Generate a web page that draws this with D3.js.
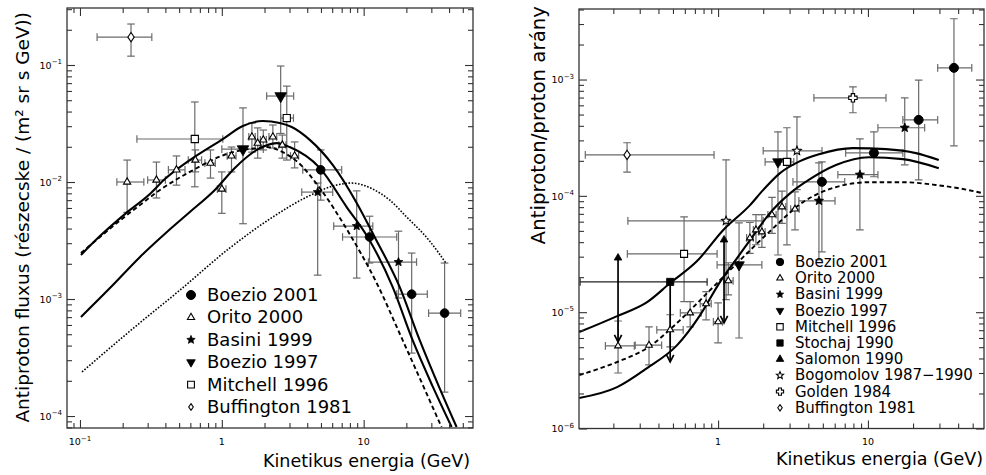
<!DOCTYPE html>
<html><head><meta charset="utf-8">
<script src="https://cdn.jsdelivr.net/npm/d3@7"></script>
<style>
body{margin:0;background:#fff;}
svg{display:block;font-family:"DejaVu Sans",sans-serif;}
</style></head><body>
<svg id="c" width="986" height="475"></svg>
<script>
// ================= LEFT PANEL: antiproton flux =================
// model curves [E (GeV), flux]
const lCurveUpper = [[0.1016,2.38e-3],[0.1383,3.45e-3],[0.2073,5.32e-3],[0.311,7.89e-3],[0.397,1.06e-2],[0.595,1.54e-2],[1.016,2.33e-2],[1.406,3.01e-2],[1.945,3.32e-2],[2.56,3.19e-2],[3.11,2.95e-2],[4.17,2.29e-2],[6.05,1.40e-2],[8.93,6.62e-3],[11.95,3.39e-3],[17.93,1.27e-3],[24.8,4.47e-4],[34.3,1.73e-4],[45.2,8.05e-5]];
const lCurveLower = [[0.1016,7.02e-4],[0.1626,1.24e-3],[0.265,2.29e-3],[0.410,3.74e-3],[0.595,5.54e-3],[0.893,8.55e-3],[1.235,1.32e-2],[1.764,1.88e-2],[2.44,2.15e-2],[3.01,1.99e-2],[4.90,1.32e-2],[7.59,6.11e-3],[10.67,3.39e-3],[16.0,1.27e-3],[22.1,4.47e-4],[30.6,1.80e-4],[41.7,8.05e-5]];
const lCurveDashed = [[0.1016,2.47e-3],[0.1383,3.39e-3],[0.2143,5.22e-3],[0.265,6.36e-3],[0.366,8.55e-3],[0.595,1.22e-2],[1.138,1.77e-2],[1.764,1.95e-2],[2.074,1.99e-2],[2.69,1.80e-2],[3.43,1.48e-2],[4.90,8.89e-3],[7.59,3.96e-3],[12.35,1.37e-3],[18.8,4.47e-4],[35.4,8.05e-5]];
const lCurveDotted = [[0.1033,2.38e-4],[0.225,5.32e-4],[0.506,1.19e-3],[1.138,2.73e-3],[2.287,5.02e-3],[3.97,7.44e-3],[6.45,9.42e-3],[8.23,9.8e-3],[11.57,8.71e-3],[15.25,7.02e-3],[20.1,5.02e-3],[29.2,3.13e-3],[38.4,1.99e-3]];
// data points [E, flux, Elo, Ehi, fluxLo, fluxHi]
const lBoezio2001 = [[4.98,1.27e-2,3.72,7.0,7.0e-3,1.88e-2],[11.0,3.39e-3,7.1,17.1,2.03e-3,5.1e-3],[21.8,1.10e-3,17.1,28.1,3.45e-4,2.47e-3],[37.2,7.58e-4,28.7,48.3,1.60e-4,2.03e-3]];
const lOrito2000 = [[0.215,1.00e-2,0.182,0.282,5.5e-3,1.54e-2],[0.346,1.04e-2,0.30,0.40,7.3e-3,1.48e-2],[0.479,1.27e-2,0.42,0.55,9.4e-3,1.67e-2],[0.651,1.54e-2,0.58,0.72,1.22e-2,1.88e-2],[0.832,1.45e-2,0.76,0.90,1.08e-2,1.88e-2],[1.00,8.7e-3,0.93,1.07,5.4e-3,1.22e-2],[1.17,1.67e-2,1.09,1.26,1.22e-2,1.99e-2],[1.63,2.43e-2,1.55,1.72,1.80e-2,3.19e-2],[1.79,2.15e-2,1.72,1.87,1.60e-2,2.90e-2],[1.96,2.29e-2,1.87,2.06,1.88e-2,2.78e-2],[2.29,2.43e-2,2.15,2.44,1.95e-2,3.07e-2],[2.67,2.07e-2,2.52,2.83,1.60e-2,2.52e-2],[3.26,1.67e-2,3.05,3.48,1.32e-2,2.20e-2]];
const lBasini1999 = [[4.74,8.2e-3,3.66,6.05,1.60e-3,9.8e-3],[8.93,4.2e-3,6.15,11.6,1.51e-3,8.4e-3],[17.6,2.07e-3,10.8,23.6,1.02e-3,3.8e-3]];
const lBoezio1997 = [[1.41,1.91e-2,1.0,1.96,4.4e-3,4.3e-2],[2.60,5.43e-2,2.07,3.21,2.6e-2,9.8e-2]];
const lMitchell1996 = [[0.645,2.33e-2,0.252,1.016,9.1e-3,4.83e-2],[2.87,3.52e-2,2.6,3.2,1.54e-2,6.6e-2]];
const lBuffington1981 = [[0.229,0.173,0.132,0.321,0.119,0.224]];
const lXTicks = [0.1,1,10];
const lYTicks = [1e-4,1e-3,1e-2,1e-1];
const lLegendNames = ["Boezio 2001","Orito 2000","Basini 1999","Boezio 1997","Mitchell 1996","Buffington 1981"];

// ================= RIGHT PANEL: antiproton/proton ratio =================
const rCurveUpper = [[0.1183,6.74e-6],[0.212,9.25e-6],[0.336,1.22e-5],[0.479,1.78e-5],[0.724,2.75e-5],[1.08,5.07e-5],[1.634,8.32e-5],[1.995,1.12e-4],[2.59,1.57e-4],[3.52,1.99e-4],[4.71,2.28e-4],[7.94,2.57e-4],[13.18,2.52e-4],[20.9,2.33e-4],[29.7,2.03e-4]];
const rCurveLower = [[0.1183,1.83e-6],[0.212,2.27e-6],[0.336,3.31e-6],[0.533,5.21e-6],[0.759,9.44e-6],[1.031,1.82e-5],[1.339,2.92e-5],[1.765,4.78e-5],[2.188,6.96e-5],[3.02,1.05e-4],[4.10,1.39e-4],[6.12,1.84e-4],[10.16,2.15e-4],[17.1,2.07e-4],[29.7,1.73e-4]];
const rCurveDashed = [[0.1183,2.88e-6],[0.212,3.73e-6],[0.336,4.92e-6],[0.558,8.55e-6],[0.819,1.40e-5],[1.148,2.17e-5],[1.402,2.80e-5],[2.188,4.88e-5],[3.69,8.83e-5],[6.12,1.19e-4],[10.16,1.31e-4],[17.1,1.31e-4],[28.4,1.24e-4],[47.1,1.12e-4],[59.3,1.05e-4]];
// data points [E, ratio, Elo, Ehi, ratioLo, ratioHi]
const rBoezio2001 = [[4.93,1.32e-4,3.16,7.0,3.3e-5,1.96e-4],[10.96,2.34e-4,7.1,17.1,1.46e-4,3.55e-4],[21.8,4.5e-4,17.1,29.2,1.37e-4,9.9e-4],[37.5,1.26e-3,29.2,49.3,2.69e-4,3.33e-3]];
const rOrito2000 = [[0.215,5.13e-6,0.177,0.276,3.0e-6,8.4e-6],[0.346,5.2e-6,0.28,0.42,3.52e-6,7.48e-6],[0.479,7.05e-6,0.39,0.585,5.03e-6,9.5e-6],[0.651,9.86e-6,0.56,0.77,7.48e-6,1.23e-5],[0.832,1.18e-5,0.76,0.90,8.6e-6,1.5e-5],[1.00,8.26e-6,0.93,1.07,5.45e-6,1.2e-5],[1.17,1.86e-5,1.09,1.26,1.41e-5,2.66e-5],[1.63,4.35e-5,1.55,1.72,3.2e-5,5.9e-5],[1.79,5.1e-5,1.72,1.87,3.8e-5,6.9e-5],[1.96,4.9e-5,1.87,2.06,3.6e-5,6.9e-5],[2.29,6.87e-5,2.15,2.44,4.75e-5,9.7e-5],[2.67,8.04e-5,2.52,2.83,5.8e-5,1.1e-4],[3.26,7.7e-5,3.05,3.48,5.1e-5,1.08e-4]];
const rBasini1999 = [[4.71,9.06e-5,3.46,6.03,2.82e-5,1.92e-4],[8.84,1.52e-4,6.3,11.66,5.1e-5,3.09e-4],[17.6,3.85e-4,11.66,23.9,1.85e-4,6.95e-4]];
const rBoezio1997 = [[1.38,2.55e-5,0.985,1.96,6.0e-6,5.86e-5],[2.51,1.96e-4,2.06,3.07,3.1e-5,3.55e-4]];
const rMitchell1996 = [[0.593,3.17e-5,0.248,0.985,1.23e-5,6.59e-5],[2.88,1.96e-4,2.6,3.2,3.79e-5,3.85e-4]];
// Stochaj 1990: [E, ratio, Elo, Ehi, arrow end]
const rStochaj1990 = [[0.479,1.82e-5,0.120,0.845,3.74e-6]];
// Salomon 1990: [E, top, bottom]
const rSalomon1990 = [[0.215,2.93e-5,5.56e-6],[1.096,4.19e-5,8.09e-6]];
const rBogomolov = [[1.13,6.1e-5,0.25,2.0,1.28e-5,2.04e-4],[3.36,2.44e-4,2.0,4.94,1.13e-4,4.78e-4]];
const rGolden1984 = [[7.94,6.96e-4,4.36,13.2,5.18e-4,8.65e-4]];
const rBuffington1981 = [[0.247,2.25e-4,0.130,0.94,1.6e-4,2.86e-4]];
const rXTicks = [1,10];
const rYTicks = [1e-6,1e-5,1e-4,1e-3];
const rLegendNames = ["Boezio 2001","Orito 2000","Basini 1999","Boezio 1997","Mitchell 1996","Stochaj 1990","Salomon 1990","Bogomolov 1987\u22121990","Golden 1984","Buffington 1981"];

// ================= drawing =================
const svg = d3.select('#c');

function symPath(type, s){
  const f=(v)=>v.toFixed(2);
  switch(type){
    case 'triUp': return `M0,${f(-1.15*s)}L${f(s)},${f(0.58*s)}L${f(-s)},${f(0.58*s)}Z`;
    case 'triDown': return `M0,${f(1.15*s)}L${f(s)},${f(-0.58*s)}L${f(-s)},${f(-0.58*s)}Z`;
    case 'square': return `M${f(-s)},${f(-s)}H${f(s)}V${f(s)}H${f(-s)}Z`;
    case 'diamond': return `M0,${f(-1.45*s)}L${f(s)},0L0,${f(1.45*s)}L${f(-s)},0Z`;
    case 'cross': { const a=0.4*s; return `M${f(-a)},${f(-s)}H${f(a)}V${f(-a)}H${f(s)}V${f(a)}H${f(a)}V${f(s)}H${f(-a)}V${f(a)}H${f(-s)}V${f(-a)}H${f(-a)}Z`; }
    case 'star': {
      let p=''; for(let i=0;i<10;i++){ const r=i%2?s*0.45:s; const ang=-Math.PI/2+i*Math.PI/5; p+=(i?'L':'M')+f(r*Math.cos(ang))+','+f(r*Math.sin(ang)); } return p+'Z'; }
  }
}
function marker(g, kind, cx, cy, s){
  if(kind.type==='circle'){
    g.append('circle').attr('cx',cx).attr('cy',cy).attr('r',s).attr('fill',kind.fill).attr('stroke','#000').attr('stroke-width',1);
  } else {
    g.append('path').attr('transform',`translate(${cx},${cy})`).attr('d',symPath(kind.type,s))
      .attr('fill',kind.fill).attr('stroke','#000').attr('stroke-width',kind.fill==='#000'?0.8:1.1).attr('stroke-linejoin','miter');
  }
}
function errBars(g, x, y, pts, color){
  const cap=3.8;
  pts.forEach(p=>{
    const cx=x(p[0]), cy=y(p[1]);
    if(p[2]!=null){
      const x0=x(p[2]), x1=x(p[3]);
      g.append('line').attr('x1',x0).attr('x2',x1).attr('y1',cy).attr('y2',cy);
      g.append('line').attr('x1',x0).attr('x2',x0).attr('y1',cy-cap).attr('y2',cy+cap);
      g.append('line').attr('x1',x1).attr('x2',x1).attr('y1',cy-cap).attr('y2',cy+cap);
    }
    if(p[4]!=null){
      const y0=y(p[4]), y1=y(p[5]);
      g.append('line').attr('x1',cx).attr('x2',cx).attr('y1',y0).attr('y2',y1);
      g.append('line').attr('x1',cx-cap).attr('x2',cx+cap).attr('y1',y0).attr('y2',y0);
      g.append('line').attr('x1',cx-cap).attr('x2',cx+cap).attr('y1',y1).attr('y2',y1);
    }
  });
  g.selectAll('line').attr('stroke',color).attr('stroke-width',1.2);
}
function minors(domain){
  const out=[]; const [a,b]=domain;
  for(let d=Math.floor(Math.log10(a)); d<=Math.ceil(Math.log10(b)); d++)
    for(let m=2;m<=9;m++){ const v=m*Math.pow(10,d); if(v>a*1.0001 && v<b*0.9999) out.push(v); }
  return out;
}
function expLabel(t, v){
  const e=Math.round(Math.log10(v));
  if(e===0){ t.text('1'); return; }
  if(e===1){ t.text('10'); return; }
  t.append('tspan').text('10');
  t.append('tspan').attr('dy',-4.5).attr('font-size',7).text('\u2212'+(-e));
}
function frameAndAxes(g, x, y, xTicks, yTicks, lab){
  const [X0,X1]=x.range(), [Y0,Y1]=y.range();
  const axes=[
    [d3.axisBottom, x, `translate(0,${Y0})`, xTicks],
    [d3.axisTop, x, `translate(0,${Y1})`, xTicks],
    [d3.axisLeft, y, `translate(${X0},0)`, yTicks],
    [d3.axisRight, y, `translate(${X1},0)`, yTicks]];
  axes.forEach(([ax,sc,tr,maj])=>{
    [[maj,-8],[minors(sc.domain()),-5]].forEach(([vals,len])=>{
      const a=g.append('g').attr('transform',tr)
        .call(ax(sc).tickValues(vals).tickSize(len).tickFormat(''));
      a.select('.domain').remove();
      a.selectAll('line').attr('stroke','#333').attr('stroke-width',1.1);
    });
  });
  g.append('rect').attr('x',X0).attr('y',Y1).attr('width',X1-X0).attr('height',Y0-Y1)
    .attr('fill','none').attr('stroke','#333').attr('stroke-width',1.3);
  xTicks.forEach(v=>{
    const t=g.append('text').attr('x',x(v)).attr('y',lab.xBase).attr('text-anchor','middle')
      .attr('font-size',9.5).attr('fill','#000');
    expLabel(t,v);
  });
  yTicks.forEach(v=>{
    const t=g.append('text').attr('x',X0-lab.yGap).attr('y',y(v)+3.8).attr('text-anchor','end')
      .attr('font-size',9.5).attr('fill','#000');
    expLabel(t,v);
  });
}
function curve(g, x, y, data, style){
  const line=d3.line().x(d=>x(d[0])).y(d=>y(d[1])).curve(d3.curveMonotoneX);
  const p=g.append('path').attr('d',line(data)).attr('fill','none').attr('stroke','#000')
    .attr('stroke-width',style.w).attr('stroke-linejoin','round');
  if(style.dash) p.attr('stroke-dasharray',style.dash);
}

const K={
  circle:{type:'circle',fill:'#000'}, triOpen:{type:'triUp',fill:'#fff'}, star:{type:'star',fill:'#000'},
  triDown:{type:'triDown',fill:'#000'}, sqOpen:{type:'square',fill:'#fff'}, sqFill:{type:'square',fill:'#000'},
  triFill:{type:'triUp',fill:'#000'}, starOpen:{type:'star',fill:'#fff'}, cross:{type:'cross',fill:'#fff'},
  diamond:{type:'diamond',fill:'#fff'}
};
const ERR='#6a6a6a';

// ---------- left panel ----------
{
  const x=d3.scaleLog().domain([0.081,59]).range([67,473]);
  const y=d3.scaleLog().domain([7.9e-5,0.307]).range([428,8]);
  const g=svg.append('g');
  svg.append('clipPath').attr('id','clipL').append('rect').attr('x',67).attr('y',8).attr('width',406).attr('height',420);
  const pg=g.append('g').attr('clip-path','url(#clipL)');
  const eb=pg.append('g');
  [lOrito2000,lBoezio1997,lMitchell1996,lBuffington1981,lBasini1999,lBoezio2001].forEach(d=>errBars(eb.append('g'),x,y,d,ERR));
  curve(pg,x,y,lCurveDotted,{w:1.6,dash:'1.6,1.6'});
  curve(pg,x,y,lCurveDashed,{w:1.9,dash:'4.5,3'});
  curve(pg,x,y,lCurveLower,{w:2.1});
  curve(pg,x,y,lCurveUpper,{w:2.1});
  const mg=pg.append('g');
  lOrito2000.forEach(p=>marker(mg,K.triOpen,x(p[0]),y(p[1]),3.6));
  lMitchell1996.forEach(p=>marker(mg,K.sqOpen,x(p[0]),y(p[1]),3.6));
  lBuffington1981.forEach(p=>marker(mg,K.diamond,x(p[0]),y(p[1]),3.2));
  lBoezio1997.forEach(p=>marker(mg,K.triDown,x(p[0]),y(p[1]),5.8));
  lBasini1999.forEach(p=>marker(mg,K.star,x(p[0]),y(p[1]),4.6));
  lBoezio2001.forEach(p=>marker(mg,K.circle,x(p[0]),y(p[1]),4.3));
  frameAndAxes(g,x,y,lXTicks,lYTicks,{xBase:445,yGap:5});
  const kinds=[K.circle,K.triOpen,K.star,K.triDown,K.sqOpen,K.diamond];
  const sizes=[4.5,3.6,4.4,4.3,3.4,2.3];
  lLegendNames.forEach((n,i)=>{
    const by=301+i*22.4;
    marker(g,kinds[i],191,by-6,sizes[i]);
    g.append('text').attr('x',207).attr('y',by).attr('font-size',18).attr('fill','#000').text(n);
  });
  g.append('text').attr('x',470).attr('y',467).attr('text-anchor','end').attr('font-size',17.5).text('Kinetikus energia (GeV)');
  g.append('text').attr('transform','translate(29,12) rotate(-90)').attr('text-anchor','end').attr('font-size',18.5)
    .text('Antiproton fluxus (részecske / (m² sr s GeV))');
}

// ---------- right panel ----------
{
  const x=d3.scaleLog().domain([0.118,59.5]).range([579,984]);
  const y=d3.scaleLog().domain([1e-6,4.04e-3]).range([428.5,9]);
  const g=svg.append('g');
  svg.append('clipPath').attr('id','clipR').append('rect').attr('x',579).attr('y',9).attr('width',405).attr('height',419.5);
  const pg=g.append('g').attr('clip-path','url(#clipR)');
  const eb=pg.append('g');
  [rOrito2000,rBoezio1997,rMitchell1996,rBogomolov,rGolden1984,rBuffington1981,rBasini1999,rBoezio2001].forEach(d=>errBars(eb.append('g'),x,y,d,ERR));
  errBars(eb.append('g'),x,y,rStochaj1990.map(p=>[p[0],p[1],p[2],p[3],null,null]),'#222');
  curve(pg,x,y,rCurveDashed,{w:1.9,dash:'4.5,3'});
  curve(pg,x,y,rCurveLower,{w:2.1});
  curve(pg,x,y,rCurveUpper,{w:2.1});
  const mg=pg.append('g');
  const arrow=(cx,yTop,yBot)=>{
    mg.append('line').attr('x1',cx).attr('x2',cx).attr('y1',yTop).attr('y2',yBot).attr('stroke','#000').attr('stroke-width',1.7);
    mg.append('path').attr('d',`M${cx-3.6},${yBot-7}L${cx},${yBot}L${cx+3.6},${yBot-7}`).attr('fill','none').attr('stroke','#000').attr('stroke-width',1.7);
  };
  rSalomon1990.forEach(p=>{ arrow(x(p[0]),y(p[1]),y(p[2])); marker(mg,K.triFill,x(p[0]),y(p[1]),3.8); });
  rStochaj1990.forEach(p=>{ arrow(x(p[0]),y(p[1]),y(p[4])); marker(mg,K.sqFill,x(p[0]),y(p[1]),3.6); });
  rOrito2000.forEach(p=>marker(mg,K.triOpen,x(p[0]),y(p[1]),3.4));
  rMitchell1996.forEach(p=>marker(mg,K.sqOpen,x(p[0]),y(p[1]),3.5));
  rBuffington1981.forEach(p=>marker(mg,K.diamond,x(p[0]),y(p[1]),3.2));
  rBogomolov.forEach(p=>marker(mg,K.starOpen,x(p[0]),y(p[1]),4.6));
  rGolden1984.forEach(p=>marker(mg,K.cross,x(p[0]),y(p[1]),4.2));
  rBoezio1997.forEach(p=>marker(mg,K.triDown,x(p[0]),y(p[1]),5.3));
  rBasini1999.forEach(p=>marker(mg,K.star,x(p[0]),y(p[1]),4.8));
  rBoezio2001.forEach(p=>marker(mg,K.circle,x(p[0]),y(p[1]),4.5));
  frameAndAxes(g,x,y,rXTicks,rYTicks,{xBase:445,yGap:5});
  const kinds=[K.circle,K.triOpen,K.star,K.triDown,K.sqOpen,K.sqFill,K.triFill,K.starOpen,K.cross,K.diamond];
  const sizes=[3.7,3.2,3.8,3.8,3.2,3.2,3.8,3.8,3.6,2.2];
  rLegendNames.forEach((n,i)=>{
    const by=267+i*16.2;
    marker(g,kinds[i],780,by-5,sizes[i]);
    g.append('text').attr('x',795).attr('y',by).attr('font-size',15).attr('fill','#000').text(n);
  });
  g.append('text').attr('x',983).attr('y',465).attr('text-anchor','end').attr('font-size',17.5).text('Kinetikus energia (GeV)');
  g.append('text').attr('transform','translate(545,6) rotate(-90)').attr('text-anchor','end').attr('font-size',19.8)
    .text('Antiproton/proton arány');
}
</script>
</body></html>
